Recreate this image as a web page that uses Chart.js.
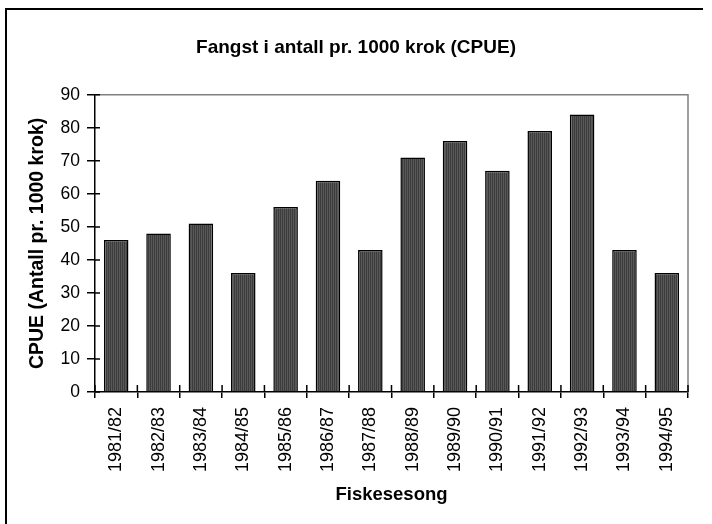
<!DOCTYPE html>
<html>
<head>
<meta charset="utf-8">
<script src="https://cdn.jsdelivr.net/npm/chart.js@4"></script>
<style>
  html, body { margin: 0; padding: 0; background: #fff; }
  #wrap { width: 712px; height: 524px; position: relative; }
</style>
</head>
<body>
<div id="wrap"><canvas id="cpueChart" width="712" height="524"></canvas></div>
<script>
// Seasons and CPUE values
const seasons = ['1981/82','1982/83','1983/84','1984/85','1985/86','1986/87','1987/88',
                 '1988/89','1989/90','1990/91','1991/92','1992/93','1993/94','1994/95'];
const cpue = [46, 48, 51, 36, 56, 64, 43, 71, 76, 67, 79, 84, 43, 36];
const yTicks = [0, 10, 20, 30, 40, 50, 60, 70, 80, 90];

const FONT = 'Arial, "Liberation Sans", sans-serif';

// Fine vertical stripe texture for the bars
function barPattern() {
    const c = document.createElement('canvas');
    c.width = 2; c.height = 2;
    const g = c.getContext('2d');
    g.fillStyle = '#3c3c3c'; g.fillRect(0, 0, 1, 2);
    g.fillStyle = '#585858'; g.fillRect(1, 0, 1, 2);
    return g.createPattern(c, 'repeat');
}

// Frame lines: outer page frame (left + top), grey plot box (top + right),
// and the inner halves of the cross tick marks
const frames = {
    id: 'frames',
    afterDraw(chart) {
        const ctx = chart.ctx, a = chart.chartArea;
        ctx.save();
        ctx.strokeStyle = '#000';
        ctx.lineWidth = 2;
        ctx.beginPath();
        ctx.moveTo(6, 524); ctx.lineTo(6, 9); ctx.lineTo(703, 9);
        ctx.stroke();
        ctx.strokeStyle = '#808080';
        ctx.lineWidth = 1.5;
        ctx.beginPath();
        ctx.moveTo(a.left, a.top); ctx.lineTo(a.right, a.top); ctx.lineTo(a.right, a.bottom);
        ctx.stroke();
        ctx.strokeStyle = '#000';
        ctx.lineWidth = 1.5;
        ctx.beginPath();
        const ys = chart.scales.y;
        ys.ticks.forEach((t, i) => {
            const p = ys.getPixelForTick(i);
            ctx.moveTo(a.left, p); ctx.lineTo(a.left + 5, p);
        });
        const xs = chart.scales.x;
        for (let i = 0; i <= seasons.length; i++) {
            const p = xs.getPixelForValue(i - 0.5);
            ctx.moveTo(p, a.bottom); ctx.lineTo(p, a.bottom - 7);
        }
        ctx.stroke();
        ctx.restore();
    }
};

const ctx = document.getElementById('cpueChart').getContext('2d');
new Chart(ctx, {
    type: 'bar',
    data: {
        labels: seasons,
        datasets: [{
            data: cpue,
            backgroundColor: barPattern(),
            borderColor: '#000',
            borderWidth: 1.5,
            barPercentage: 0.58,
            categoryPercentage: 1
        }]
    },
    options: {
        responsive: false,
        animation: false,
        devicePixelRatio: 1,
        layout: { padding: { left: 0, right: 0, top: 0, bottom: 0 } },
        plugins: {
            legend: { display: false },
            tooltip: { enabled: false },
            title: {
                display: true,
                text: 'Fangst i antall pr. 1000 krok (CPUE)',
                color: '#000',
                font: { family: FONT, size: 19, weight: 'bold' },
                padding: { top: 36, bottom: 36 }
            }
        },
        scales: {
            x: {
                afterFit(s) { s.height = 132; },
                grid: { display: true, drawOnChartArea: false, drawTicks: true, tickLength: 6, color: '#000', lineWidth: 1.5, offset: true },
                border: { display: true, color: '#000', width: 1.5 },
                ticks: {
                    color: '#000', font: { family: FONT, size: 18 },
                    maxRotation: 90, minRotation: 90, padding: 9, autoSkip: false
                },
                title: {
                    display: true, text: 'Fiskesesong', color: '#000',
                    font: { family: FONT, size: 18.5, weight: 'bold' },
                    padding: { top: 0, bottom: 18 }
                }
            },
            y: {
                min: 0, max: 90,
                afterFit(s) { s.width = 95; },
                afterBuildTicks(s) { s.ticks = yTicks.map(v => ({ value: v })); },
                grid: { display: true, drawOnChartArea: false, drawTicks: true, tickLength: 8, color: '#000', lineWidth: 1.5 },
                border: { display: true, color: '#000', width: 1.5 },
                ticks: { color: '#000', font: { family: FONT, size: 17.5 }, padding: 7 },
                title: {
                    display: true, text: 'CPUE (Antall pr. 1000 krok)', color: '#000',
                    font: { family: FONT, size: 19.5, weight: 'bold' },
                    padding: { top: 26, bottom: 0 }
                }
            },
            // empty right-hand spacer so the title stays centred on the page
            spacer: {
                type: 'linear', position: 'right', display: true,
                afterFit(s) { s.width = 24; },
                grid: { display: false }, border: { display: false },
                ticks: { display: false }
            }
        }
    },
    plugins: [frames]
});
</script>
</body>
</html>
